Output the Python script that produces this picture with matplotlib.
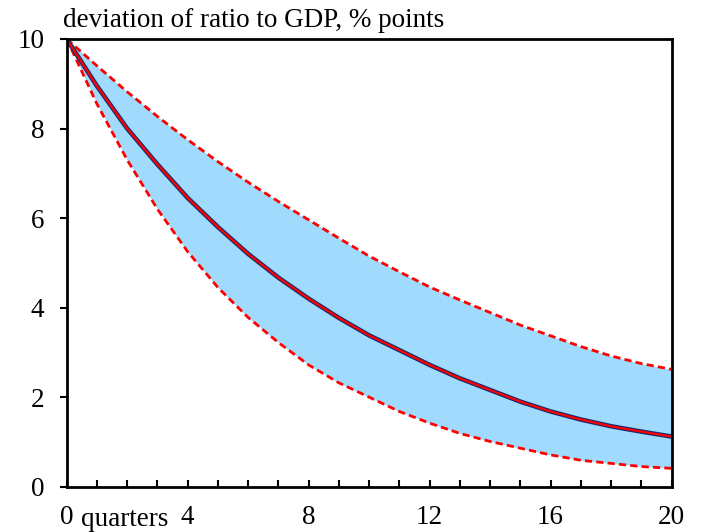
import matplotlib
matplotlib.use("Agg")
import matplotlib.pyplot as plt
import matplotlib.transforms as mtransforms

plt.rcParams['font.family'] = ['Liberation Serif', 'DejaVu Serif']

quarters = list(range(21))
central = [10.0, 8.95, 8.0, 7.2, 6.45, 5.8, 5.2, 4.67, 4.2, 3.77, 3.38,
           3.05, 2.72, 2.42, 2.16, 1.9, 1.68, 1.5, 1.35, 1.23, 1.12]
upper = [10.0, 9.4, 8.82, 8.27, 7.75, 7.26, 6.8, 6.37, 5.96, 5.55, 5.15,
         4.8, 4.46, 4.17, 3.89, 3.61, 3.37, 3.13, 2.92, 2.75, 2.62]
lower = [10.0, 8.55, 7.3, 6.2, 5.25, 4.45, 3.78, 3.22, 2.72, 2.32, 2.0,
         1.68, 1.42, 1.19, 1.01, 0.86, 0.71, 0.59, 0.52, 0.45, 0.41]
xtick_vals = [0, 4, 8, 12, 16, 20]
ytick_vals = [0, 2, 4, 6, 8, 10]

fig = plt.figure(figsize=(7.02, 5.32), dpi=100)
ax = fig.add_axes([0.095, 0.0852, 0.8616, 0.8415])

ax.fill_between(quarters, lower, upper, color='#a0dbfd', lw=0)
ax.plot(quarters, upper, color='#ff0000', lw=2, dashes=(2.6, 1.5))
ax.plot(quarters, lower, color='#ff0000', lw=2, dashes=(2.6, 1.5))
ax.plot(quarters, central, color='#1c2a6a', lw=3.3, solid_capstyle='butt')
ax.plot(quarters, central, color='#ff0000', lw=1.6, solid_capstyle='butt')

ax.set_xlim(0, 20)
ax.set_ylim(0, 10)
for s in ax.spines.values():
    s.set_linewidth(2)
ax.set_xticks(quarters, minor=True)
ax.set_xticks(xtick_vals)
ax.set_xticklabels([str(v) for v in xtick_vals])
ax.set_yticks(ytick_vals)
ax.tick_params(axis='x', which='both', direction='in', length=5, width=1.5,
               labelsize=19.5, pad=13)
ax.tick_params(axis='y', direction='out', length=5, width=1.5,
               labelsize=19.5, pad=11)

trans = mtransforms.blended_transform_factory(ax.transData, ax.transAxes)
ax.text(0.47, -0.0878, 'quarters', fontsize=19.5, ha='left', va='baseline',
        transform=trans)

fig.text(63 / 702, 1 - 27 / 532, 'deviation of ratio to GDP, % points',
         fontsize=19.5, ha='left', va='baseline')

fig.savefig('out.png', dpi=100)
